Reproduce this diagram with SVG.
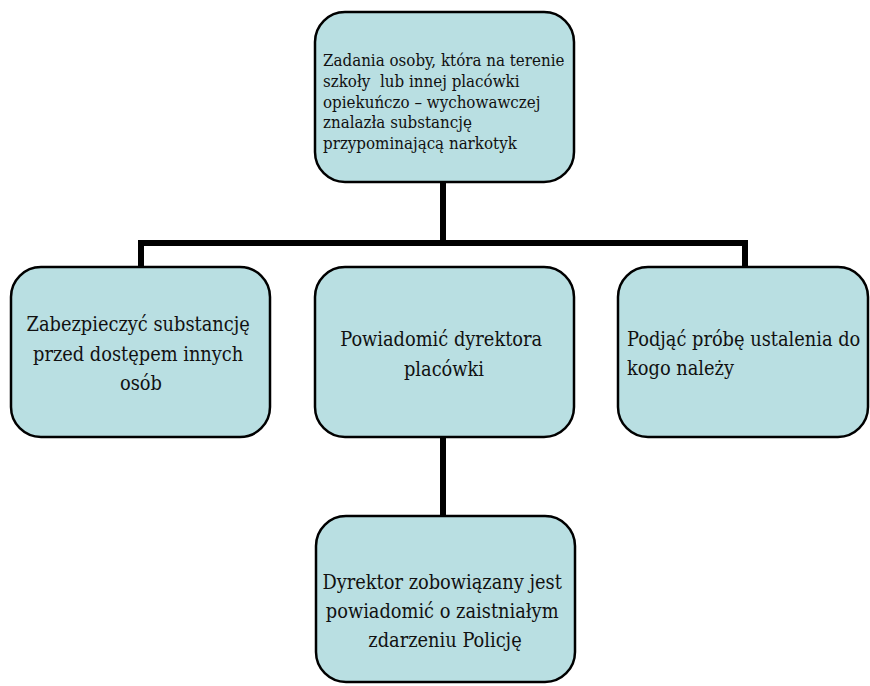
<svg xmlns="http://www.w3.org/2000/svg" width="870" height="686" viewBox="0 0 870 686">
  <style>
    .box { fill: #b9dfe2; stroke: #000; stroke-width: 2.5; }
    .wire { fill: none; stroke: #000; stroke-width: 6; stroke-linecap: butt; stroke-linejoin: miter; }
    text { font-family: "DejaVu Serif Condensed", "DejaVu Serif", serif; font-stretch: condensed; fill: #111; }
    .s17 { font-size: 16.8px; }
    .s19 { font-size: 19.8px; }
    .mid { text-anchor: middle; }
  </style>
  <rect width="870" height="686" fill="#fff"/>

  <g id="connectors">
    <path class="wire" d="M443,182 V243"/>
    <path class="wire" d="M141,267 V243 H745 V267"/>
    <path class="wire" d="M443,437 V516"/>
  </g>

  <g id="root">
    <rect class="box" x="315" y="12" width="259" height="170" rx="30"/>
    <text class="s17">
      <tspan x="323" y="66">Zadania osoby, która na terenie</tspan>
      <tspan x="323" y="87" xml:space="preserve">szkoły  lub innej placówki</tspan>
      <tspan x="323" y="108">opiekuńczo – wychowawczej</tspan>
      <tspan x="323" y="128">znalazła substancję</tspan>
      <tspan x="323" y="149">przypominającą narkotyk</tspan>
    </text>
  </g>

  <g id="secure">
    <rect class="box" x="11" y="267" width="259" height="170" rx="30"/>
    <text class="s19 mid">
      <tspan x="141" y="331">Zabezpieczyć substancję</tspan>
      <tspan x="141" y="361">przed dostępem innych</tspan>
      <tspan x="141" y="390">osób</tspan>
    </text>
  </g>

  <g id="notify">
    <rect class="box" x="315" y="267" width="259" height="170" rx="30"/>
    <text class="s19 mid">
      <tspan x="444" y="346">Powiadomić dyrektora</tspan>
      <tspan x="444" y="376">placówki</tspan>
    </text>
  </g>

  <g id="owner">
    <rect class="box" x="618" y="267" width="250" height="170" rx="30"/>
    <text class="s19">
      <tspan x="627" y="346">Podjąć próbę ustalenia do</tspan>
      <tspan x="627" y="375">kogo należy</tspan>
    </text>
  </g>

  <g id="director">
    <rect class="box" x="316" y="516" width="259" height="166" rx="30"/>
    <text class="s19 mid">
      <tspan x="445" y="589">Dyrektor zobowiązany jest</tspan>
      <tspan x="445" y="618">powiadomić o zaistniałym</tspan>
      <tspan x="445" y="647">zdarzeniu Policję</tspan>
    </text>
  </g>
</svg>
